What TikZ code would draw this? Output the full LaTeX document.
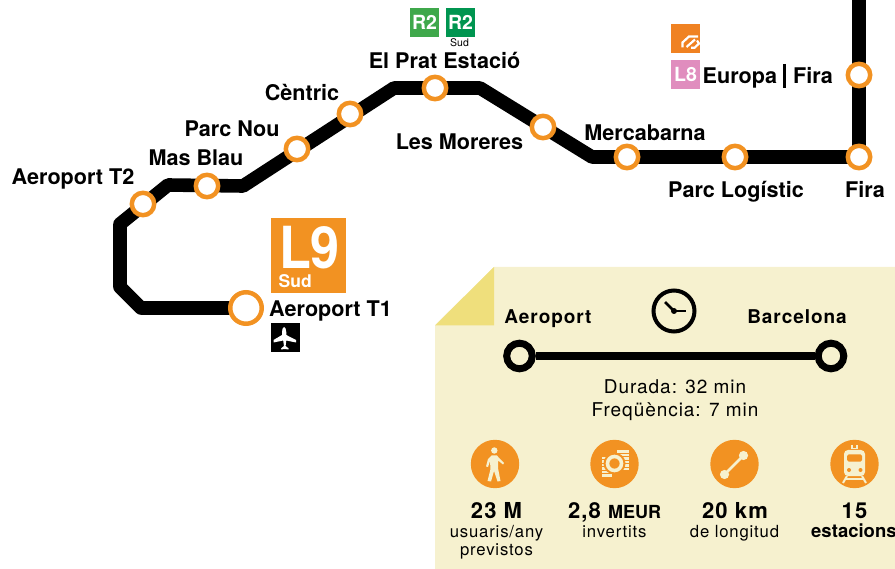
\documentclass[tikz,border=0pt]{standalone}
\usepackage{fontspec}
\setmainfont{TeX Gyre Heros}
\newfontfamily\spacedfont[LetterSpace=5]{TeX Gyre Heros}
\definecolor{ringor}{HTML}{F29222}
\definecolor{panelc}{HTML}{F6F1CF}
\definecolor{foldc}{HTML}{EFDF7C}
\definecolor{rgreen}{HTML}{3FA84B}
\definecolor{rdark}{HTML}{009550}
\definecolor{fgcor}{HTML}{F08222}
\definecolor{lpink}{HTML}{E08DBE}
\tikzset{
  x=1pt,y=-1pt,
  trackline/.style={line width=13.6pt,line join=round,black},
  stn/.style={circle,draw=ringor,fill=white,line width=4.5pt,minimum size=22.4pt,inner sep=0pt},
  bigstn/.style={stn,minimum size=31.5pt},
  lab/.style={inner sep=0pt,text height=15.4pt,text depth=0pt,font=\fontsize{21.6}{24}\selectfont\bfseries,text=black},
  badge/.style={inner sep=0pt,minimum size=29pt,text=white,font=\fontsize{19.5}{20}\selectfont\bfseries},
  endring/.style={circle,draw=black,fill=panelc,line width=7pt,minimum size=25.6pt,inner sep=0pt},
  infodisc/.style={circle,fill=ringor,minimum size=48.4pt,inner sep=0pt},
  heada/.style={inner sep=0pt,text height=13.6pt,text depth=0pt,font=\spacedfont\fontsize{19}{22}\selectfont\bfseries},
  bodytxt/.style={inner sep=0pt,text height=13.6pt,text depth=0pt,font=\spacedfont\fontsize{19}{22}\selectfont},
  numtxt/.style={inner sep=0pt,text height=15.4pt,text depth=0pt,font=\spacedfont\fontsize{22}{24}\selectfont\bfseries},
  subtxt/.style={inner sep=0pt,anchor=base,font=\spacedfont\fontsize{16.7}{18}\selectfont},
  icon/.style={panelc,line cap=round,line join=round},
}
\begin{document}
\begin{tikzpicture}
\useasboundingbox (0,0) rectangle (895,569);
% named route points
\coordinate (top) at (859,-10);
\coordinate (b1) at (592,157);
\coordinate (b2) at (480,88);
\coordinate (b3) at (394,88);
\coordinate (b4) at (243,186);
\coordinate (b5) at (168,185);
\coordinate (b6) at (120,224);
\coordinate (b7) at (120,287);
\coordinate (b8) at (141,308);
\coordinate (firapt) at (859,157);
\coordinate (t1pt) at (246,308);
\draw[trackline] (top) -- (firapt) -- (b1) -- (b2) -- (b3) -- (b4) -- (b5) -- (b6) -- (b7) -- (b8) -- (t1pt);
% stations
\node[stn] (europa) at (859,75) {};
\node[stn] (fira) at (859,157) {};
\node[stn] (plog) at (735,157) {};
\node[stn] (merca) at (627,157) {};
\node[stn] (more) at (543,127) {};
\node[stn] (prat) at (435,88) {};
\node[stn] (centric) at (350,114) {};
\node[stn] (pnou) at (297,149) {};
\node[stn] (mas) at (207,186) {};
\node[stn] (t2) at (143,204) {};
\node[bigstn] (t1) at (246,308) {};
% labels
\node[lab] (lt2) at (73,177) {Aeroport T2};
\node[lab] (lmas) at (196,158) {Mas Blau};
\node[lab] (lnou) at (232,129) {Parc Nou};
\node[lab] (lcen) at (302,93) {Cèntric};
\node[lab] (lprat) at (444.5,61) {El Prat Estació};
\node[lab] (lmore) at (459.5,142) {Les Moreres};
\node[lab] (lmerca) at (645,133) {Mercabarna};
\node[lab] (llog) at (736,190) {Parc Logístic};
\node[lab] (lfira) at (865,190) {Fira};
\node[lab,anchor=west] (leur) at (702.5,76) {Europa};
\node[lab,anchor=west] (lfira2) at (793,76) {Fira};
\draw[line width=2.4pt] (784.5,64) -- (784.5,88);
\node[lab,anchor=west] (lt1) at (269,308.5) {Aeroport T1};
% badges
\node[badge,fill=rgreen] (r2a) at (424.5,22.5) {R2};
\node[badge,fill=rdark] (r2b) at (460.5,22.5) {R2};
\node[inner sep=0pt,font=\fontsize{10.5}{11}\selectfont] (sud2) at (459.5,43) {Sud};
\node[badge,fill=fgcor] (fgc) at (685.5,38.5) {};
\draw[white,line width=2.2pt,line join=miter] (682.5,47.5) -- (682.5,42.5) -- (689,36.5) -- (698,36.5);
\draw[white,line width=2.2pt] (686.5,47) -- (695,39.5);
\draw[white,line width=2.2pt,line join=miter] (691,47.8) -- (694.5,47.8) -- (699,43.5) -- (697,40.5);
\node[badge,fill=lpink] (l8) at (685.5,74.5) {L8};
\fill[ringor] (271,218) rectangle (346,293);
\node[inner sep=0pt,xscale=.9,text=white,font=\fontsize{58}{58}\selectfont\bfseries] (l9) at (309.5,248) {L9};
\node[inner sep=0pt,text=white,font=\fontsize{17.5}{18}\selectfont\bfseries,anchor=west] (l9s) at (278.5,281) {Sud};
\fill[black] (271,323) rectangle (299.5,352);
\fill[white] (284,327) .. controls (285,327) and (286.3,329) .. (286.3,332) -- (286.3,335) -- (296,340) -- (296,342.5) -- (286.3,340.5) -- (285.6,346) -- (288.5,348.3) -- (288.5,349.5) -- (284.8,349) -- (281.2,349.5) -- (281.2,348.3) -- (284,346) -- (283.2,340.5) -- (273.5,342.5) -- (273.5,340) -- (282,335) -- (282,332) .. controls (282,329) and (283,327) .. (284,327) -- cycle;
% panel
\fill[panelc] (494,267) -- (895,267) -- (895,569) -- (435,569) -- (435,325) -- cycle;
\fill[foldc] (494,267) -- (494,325.5) -- (435,325.5) -- cycle;
\node[heada] (haero) at (548,316.5) {Aeroport};
\node[heada] (hbar) at (797,316.5) {Barcelona};
\node[circle,draw=black,line width=4pt,minimum size=41pt,inner sep=0pt] (clock) at (674,311) {};
\draw[line width=2.6pt] (clock.center) -- (665,302);
\draw[line width=2.6pt] (clock.center) -- (686,311);
\fill (clock.center) circle (3pt);
\node[endring] (ea) at (519.5,356) {};
\node[endring] (eb) at (831,356) {};
\draw[line width=8pt] (ea) -- (eb);
\node[bodytxt] (dur) at (675,386.5) {Durada: 32 min};
\node[bodytxt] (freq) at (675,410) {Freqüència: 7 min};
% info discs
\node[infodisc] (d1) at (495,464) {};
\node[infodisc] (d2) at (614.5,464) {};
\node[infodisc] (d3) at (734.5,464) {};
\node[infodisc] (d4) at (854.5,464) {};
% walker
\fill[panelc] (494.3,450.5) circle (3.2pt);
\fill[icon] (491.5,455.5) -- (497,455.5) -- (499,458) -- (504,463) -- (503,464.5) -- (498,460.5) -- (498,468) -- (500.5,481) -- (497.5,481.5) -- (494,471) -- (491,481.5) -- (487.5,481) -- (490.5,469) -- (490,461) -- (488,467) -- (486,466.5) -- (488,459) -- cycle;
% coins
\foreach \yy in {451.5,455,458.5,462,465.5,469}
  \draw[panelc,line width=2.2pt] (617,\yy) -- (628.5,\yy);
\foreach \yy in {458,461.5,465,468.5,472,475.5}
  \draw[panelc,line width=2.2pt] (602,\yy) -- (612,\yy);
\fill[ringor] (614.5,463.5) circle (11pt);
\draw[panelc,line width=3.6pt] (614.5,463.5) circle (7pt);
% line icon
\coordinate (ka) at (724.5,474.5);
\coordinate (kb) at (743.5,455.5);
\draw[panelc,line width=2.6pt] (ka) -- (kb);
\fill[panelc] (ka) circle (4.6pt) (kb) circle (4.6pt);
% train
\fill[panelc,rounded corners=4pt] (844,450) rectangle (865,476);
\fill[ringor,rounded corners=1.5pt] (847,454.5) rectangle (862,461.5);
\fill[ringor] (849,470) circle (2pt) (860.5,470) circle (2pt);
\draw[panelc,line width=1.5pt] (851,448.5) -- (858,448.5) (852,445) -- (852,448) (857,445) -- (857,448);
\draw[panelc,line width=2pt] (847,476) -- (843,483) (862,476) -- (866,483);
\draw[panelc,line width=1.5pt] (846,479) -- (863,479);
% info text
\node[numtxt] (n1) at (496.5,511) {23 M};
\node[subtxt] (s1a) at (496.5,537) {usuaris/any};
\node[subtxt] (s1b) at (496.5,555.5) {previstos};
\node[numtxt] (n2) at (614.5,511) {2,8 {\fontsize{18}{20}\selectfont\rmfamily\bfseries MEUR}};
\node[subtxt] (s2) at (614.5,537) {invertits};
\node[numtxt] (n3) at (735,511) {20 km};
\node[subtxt] (s3) at (734.5,537) {de longitud};
\node[numtxt] (n4) at (854.5,511) {15};
\node[inner sep=0pt,anchor=base west,font=\fontsize{18.5}{20}\selectfont\bfseries] (s4) at (811,537) {estacions};
\end{tikzpicture}
\end{document}
